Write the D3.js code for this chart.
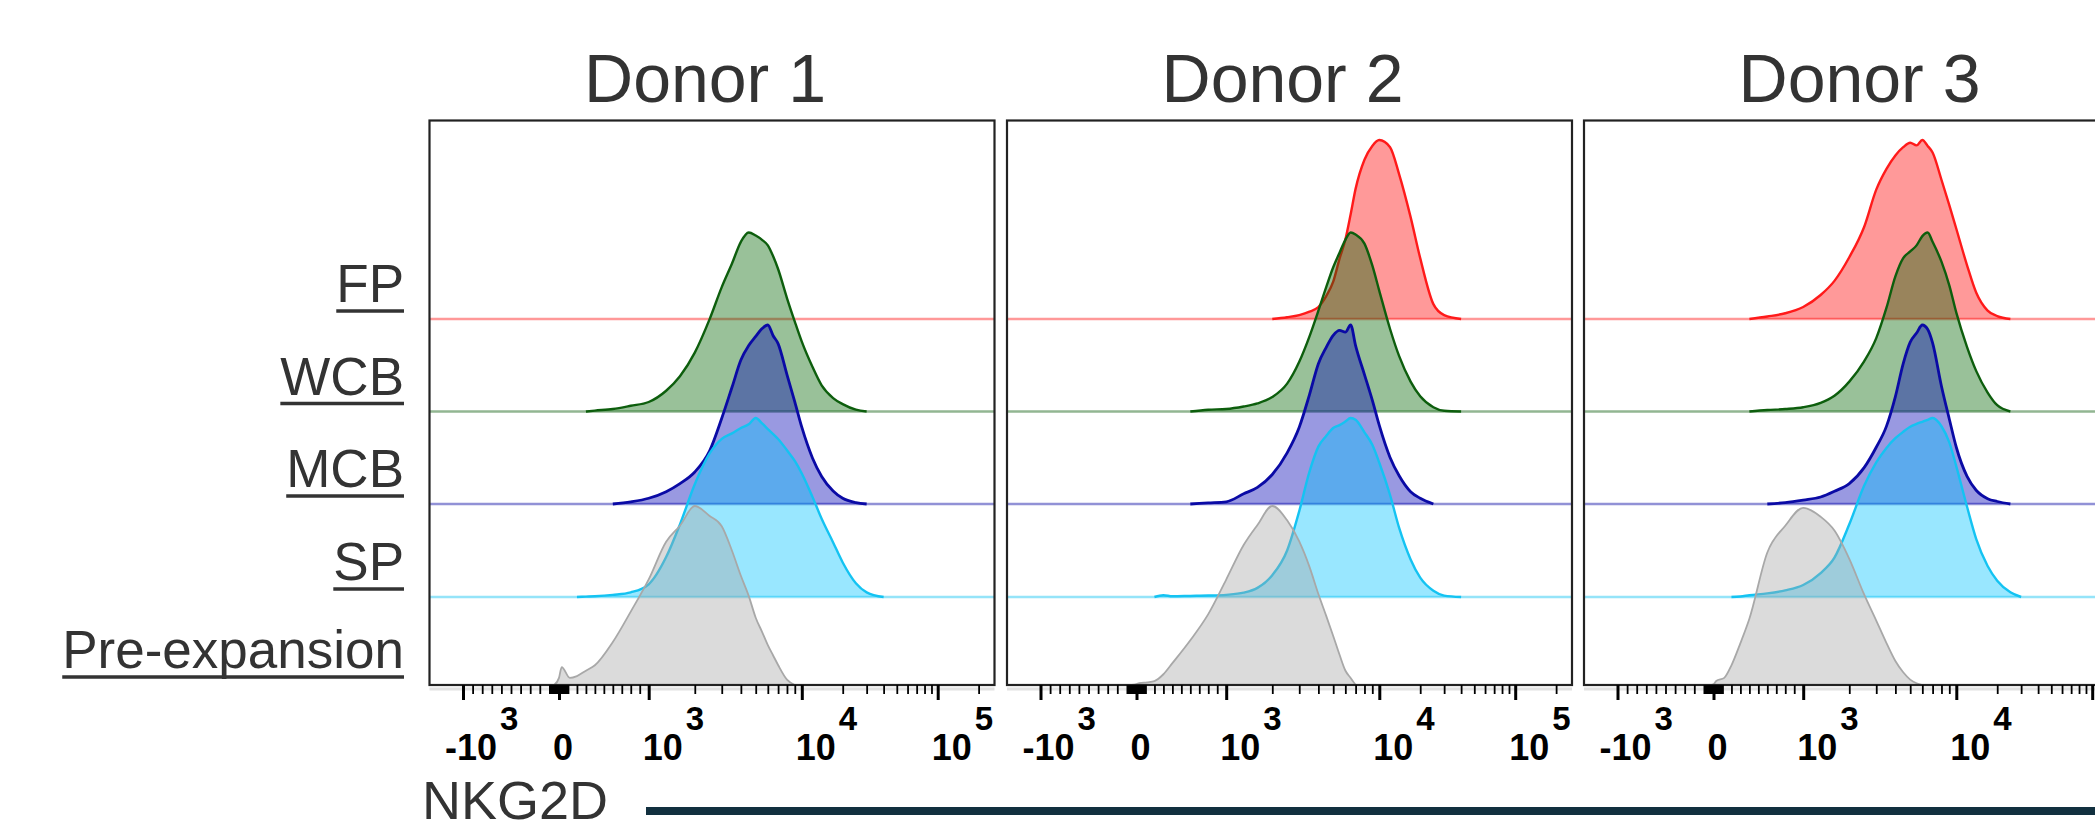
<!DOCTYPE html>
<html>
<head>
<meta charset="utf-8">
<script src="https://cdn.jsdelivr.net/npm/d3@7"></script>
<style>
  html, body { margin: 0; padding: 0; background: #fff; }
  svg { display: block; font-family: 'Liberation Sans', Arial, sans-serif; }
</style>
</head>
<body>
<div id="chart"></div>
<script>
// ---- data (normalized to mode, % of max) ----
const donors = ['Donor 1', 'Donor 2', 'Donor 3'];
const samples = ['FP', 'WCB', 'MCB', 'SP', 'Pre-expansion'];

// NKG2D intensity at which each histogram height was read
const nkg2d = [-100, -50, 0, 30, 120, 200, 300, 400, 600, 800, 1000, 1300, 1600, 2000, 2500,
    3000, 3500, 4000, 4500, 5000, 5500, 6000, 6500, 7000, 8000, 9000, 10000, 12000, 14000,
    17000, 20000, 25000, 30000, 40000];

const d1FP = [];
const d1WCB = [0,0,0,0,0,0,0,0.5,1.4,3.2,5.3,11.6,19.7,32.9,51.6,69.5,82.7,94.8,100,98.3,95.9,92.8,86.7,79.6,63.4,50.2,39,24.8,14.6,7.5,4.1,1,0,0];
const d1MCB = [0,0,0,0,0,0,0,0,0,1.2,3.2,6.9,11.4,17.9,29.7,47.9,65.2,80.4,88.5,93.6,98,100,94,89.6,72.3,57.1,42.9,25.6,15.4,7.3,3.2,0.8,0,0];
const d1SP = [0,0,0,0,0,0,0.2,0.4,1.2,2.6,7.1,22.3,40.6,63,80.2,88.3,91.4,94.4,96.5,100,97,93.8,91,88.3,82,76,69,55.8,43.7,30.5,19.3,7.7,2.6,0];
const d1Pre = [0,0,4,10,4,5,8,11,24,41,59,80,89,100,94.4,88.7,75,61,49.8,37.6,29.7,22.3,16.5,11.2,3,0,0,0,0,0,0,0,0,0];

const d2FP = [0,0,0,0,0,0,0,0,0,0,0,0,0,0,1,2.2,4.1,6.7,12.8,20.9,33.7,44.3,58.5,72.7,89,96.7,100,96,80.8,56.9,34,8.3,2.2,0];
const d2WCB = [0,0,0,0,0,0,0,0,0,1,1.4,2.8,4.5,8.1,15.6,27.8,42,56.3,69.5,80.6,88.7,95.9,100,98.9,93.8,81.6,67.4,46.1,30.9,16.7,8.5,2.4,0.4,0];
const d2MCB = [0,0,0,0,0,0,0,0,0,0.6,1.2,5.7,9.3,16.5,28.6,42.9,61.1,78.4,87.5,94.2,97,96,100,88.5,72.3,58,43.9,26,15.8,6.9,3.2,0,0,0];
const d2SP = [0,0,0,0,0,0,1,0.4,0.6,0.8,1.2,2.4,5.1,12.2,26,48,70,84,90,94.4,96,98,100,99,92,85,75,57,38.6,21,10.8,3.5,0.8,0];
const d2Pre = [0,0,0.5,1,1.5,2.2,6,12.2,25,39.6,58.9,78.2,89.4,100,92,80.2,66,50.8,38.6,27.4,16.9,8.1,3.9,0,0,0,0,0,0,0,0,0,0,0];

const d3FP = [0,0,0,0,0,0,0,0,1.4,3.2,6.7,13.4,21.3,34.5,51.4,72.3,83.9,91.4,96,98.5,97,100,96.7,93,77.8,63.6,50.4,30,14.8,4.7,1.6,0,0,0];
const d3WCB = [0,0,0,0,0,0,0,0,0.8,1.4,2.4,4.8,8.8,16.7,28,41,58,75.5,85.7,89.4,92.8,98,100,94.8,83.7,70.5,55.2,36,22.7,10.6,3.5,0,0,0];
const d3MCB = [0,0,0,0,0,0,0,0,0,0.8,2.2,3.9,7.1,11.4,20.3,31.7,43.5,60,78.4,90.4,95.5,100,97.6,90,65.8,47.5,31.7,15.4,7.7,3,1.4,0,0,0];
const d3SP = [0,0,0,0,0,0,0.3,1,2,3.7,6.7,13.4,22,40.6,62.1,75.2,83.3,88.7,92.3,95.1,96.7,97.9,99,100,95.4,86.4,73,50.4,32.5,17.3,9.1,2.6,0,0];
const d3Pre = [0,0,0.4,2.2,4,11,23.4,37,74,89,99,94,86.3,70.5,50.6,36,23.4,13.4,7.1,3,1,0,0,0,0,0,0,0,0,0,0,0,0,0];

const majorTicks = [-1000, 0, 1000, 10000, 100000];
const tickBase = ['10', '0', '10', '10', '10'];
const tickExp = ['3', '', '3', '4', '5'];
const axisTitle = 'NKG2D';

const histograms = [
    [d1FP, d1WCB, d1MCB, d1SP, d1Pre],
    [d2FP, d2WCB, d2MCB, d2SP, d2Pre],
    [d3FP, d3WCB, d3MCB, d3SP, d3Pre]
];

// ---- layout / style ----
const width = 2095;
const height = 831;
const panelX = [429.5, 1007, 1584];
const panelW = 565;
const panelTop = 120.5;
const panelBottom = 685;
const rowBase = [319, 411.5, 504, 597, 685];
const peakH = 179;

const fills = ['#ff0000', '#006400', '#0000b4', '#00c3ff', '#a5a5a5'];
const strokes = ['#ff1a1a', '#0d5e0d', '#0a0aa5', '#14c3f2', '#a8a8a8'];
const strokeW = [2.4, 2.4, 2.8, 2.4, 1.8];

// biexponential-like display: linear within +/-1000, log above
function toT(v) {
    return Math.abs(v) <= 1000 ? v / 1000 : Math.sign(v) * (1 + Math.log10(Math.abs(v) / 1000));
}

const xScale = d3.scaleLinear()
    .domain([-1, 0, 1, 2, 3])
    .range([33.5, 129.5, 219.2, 372.3, 508.2]);
const yScale = d3.scaleLinear()
    .domain([0, 100])
    .range([0, -peakH]);

const svg = d3.select('#chart')
    .append('svg')
    .attr('width', width)
    .attr('height', height);

const area = d3.area()
    .x(d => xScale(toT(d[0])))
    .y0(0)
    .y1(d => yScale(d[1]))
    .curve(d3.curveMonotoneX);
const line = d3.line()
    .x(d => xScale(toT(d[0])))
    .y(d => yScale(d[1]))
    .curve(d3.curveMonotoneX);

const steps = [1, 2, 3, 4, 5, 6, 7, 8, 9];
const minorTicks = [];
steps.forEach(m => minorTicks.push(-m * 100, -m * 10, m * 10, m * 100));
steps.slice(1).forEach(m => minorTicks.push(m * 1000, m * 10000));
minorTicks.push(200000);

donors.forEach((name, p) => {
    const panel = svg.append('g')
        .attr('transform', 'translate(' + panelX[p] + ',0)');

    svg.append('text')
        .attr('x', panelX[p] + panelW / 2 - 7)
        .attr('y', 102)
        .attr('text-anchor', 'middle')
        .attr('font-size', 68)
        .attr('fill', '#333')
        .text(name);

    samples.forEach((s, r) => {
        const values = histograms[p][r];
        const row = panel.append('g')
            .attr('transform', 'translate(0,' + rowBase[r] + ')');

        if (r < samples.length - 1) {
            row.append('line')
                .attr('x1', 0).attr('x2', panelW)
                .attr('y1', 0).attr('y2', 0)
                .attr('stroke', strokes[r])
                .attr('stroke-opacity', 0.45)
                .attr('stroke-width', 2.5);
        }
        if (!values.length) return;

        const pts = nkg2d.map((v, i) => [v, values[i]]);
        const first = Math.max(0, values.findIndex(v => v > 0) - 1);
        let last = values.length - 1;
        while (last > 0 && values[last - 1] === 0) last--;

        row.append('path')
            .datum(pts)
            .attr('d', area)
            .attr('fill', fills[r])
            .attr('fill-opacity', 0.4);
        row.append('path')
            .datum(pts.slice(first, last + 1))
            .attr('d', line)
            .attr('fill', 'none')
            .attr('stroke', strokes[r])
            .attr('stroke-width', strokeW[r])
            .attr('stroke-linejoin', 'round');
    });

    // faint shadow under the frame
    panel.append('line')
        .attr('x1', 0).attr('x2', panelW)
        .attr('y1', panelBottom + 4).attr('y2', panelBottom + 4)
        .attr('stroke', '#e2e2e2')
        .attr('stroke-width', 3);

    panel.append('rect')
        .attr('x', 0).attr('y', panelTop)
        .attr('width', panelW).attr('height', panelBottom - panelTop)
        .attr('fill', 'none')
        .attr('stroke', '#222')
        .attr('stroke-width', 2.2);

    const minorAxis = d3.axisBottom(xScale)
        .tickValues(minorTicks.map(toT))
        .tickSize(9)
        .tickFormat('');
    panel.append('g')
        .attr('transform', 'translate(0,' + panelBottom + ')')
        .call(minorAxis)
        .call(g => g.select('.domain').remove())
        .call(g => g.selectAll('.tick line').attr('stroke', '#000').attr('stroke-width', 1.8));

    const majorAxis = d3.axisBottom(xScale)
        .tickValues(majorTicks.map(toT))
        .tickSize(15)
        .tickFormat('');
    panel.append('g')
        .attr('transform', 'translate(0,' + panelBottom + ')')
        .call(majorAxis)
        .call(g => g.select('.domain').remove())
        .call(g => g.selectAll('.tick line').attr('stroke', '#000').attr('stroke-width', 3));

    majorTicks.forEach((v, i) => {
        const tx = xScale(toT(v)) - 6;
        // labels that would run past the page edge are not shown (as in the original crop)
        if (panelX[p] + tx + 60 > width) return;
        const t = panel.append('text')
            .attr('x', tx)
            .attr('y', 760)
            .attr('font-size', 36)
            .attr('font-weight', 'bold')
            .attr('fill', '#000');
        t.append('tspan').text(tickBase[i]);
        if (tickExp[i]) {
            t.append('tspan')
                .attr('dx', 3)
                .attr('dy', -30)
                .attr('font-size', 33)
                .text(tickExp[i]);
        }
        if (v < 0) {
            panel.append('text')
                .attr('x', tx)
                .attr('y', 760)
                .attr('text-anchor', 'end')
                .attr('font-size', 36)
                .attr('font-weight', 'bold')
                .attr('fill', '#000')
                .text('-');
        }
    });
});

// row labels, underlined
samples.forEach((s, r) => {
    const t = svg.append('text')
        .attr('x', 404)
        .attr('y', rowBase[r] - 17)
        .attr('text-anchor', 'end')
        .attr('font-size', 53)
        .attr('fill', '#333')
        .text(s);
    const w = t.node().getComputedTextLength();
    svg.append('line')
        .attr('x1', 404 - w).attr('x2', 404)
        .attr('y1', rowBase[r] - 8).attr('y2', rowBase[r] - 8)
        .attr('stroke', '#333')
        .attr('stroke-width', 3.5);
});

// axis title with bar
svg.append('text')
    .attr('x', 422)
    .attr('y', 819)
    .attr('font-size', 54)
    .attr('fill', '#333')
    .text(axisTitle);
svg.append('line')
    .attr('x1', 646).attr('x2', width)
    .attr('y1', 811).attr('y2', 811)
    .attr('stroke', '#12303f')
    .attr('stroke-width', 8);
</script>
</body>
</html>
